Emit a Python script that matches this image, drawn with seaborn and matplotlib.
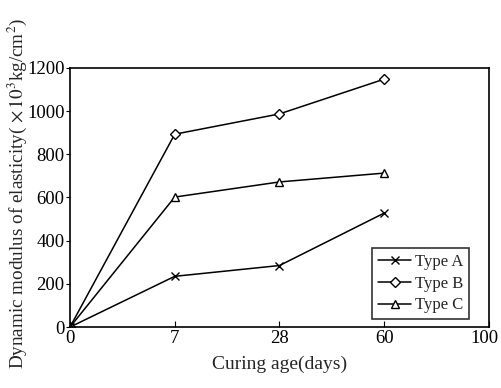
import matplotlib
matplotlib.use("Agg")
import matplotlib.pyplot as plt
import matplotlib.transforms as mtransforms
import seaborn as sns
import pandas as pd

ages = ["0", "7", "28", "60"]
type_a = [0, 235, 285, 528]
type_b = [0, 893, 987, 1148]
type_c = [0, 602, 672, 713]
x_ticklabels = ["0", "7", "28", "60", "100"]
y_ticks = [0, 200, 400, 600, 800, 1000, 1200]

sns.set_style("ticks")
plt.rcParams["font.family"] = ["Liberation Serif", "DejaVu Serif"]
plt.rcParams["mathtext.fontset"] = "stix"

fig = plt.figure(figsize=(5.01, 3.88), dpi=100)
ax = fig.add_axes([0.1397, 0.157, 0.8363, 0.668])

series = [("Type A", type_a, "x", 6), ("Type B", type_b, "D", 5), ("Type C", type_c, "^", 6)]
for name, vals, mk, ms in series:
    d = pd.DataFrame({"pos": list(range(len(ages))), "val": vals})
    sns.lineplot(data=d, x="pos", y="val", color="black", marker=mk,
                 linewidth=1.1, markersize=ms, markerfacecolor="white",
                 markeredgecolor="black", markeredgewidth=1.0, label=name, ax=ax)

ax.set_xlim(0, 4)
ax.set_ylim(0, 1200)
ax.set_xticks(range(len(x_ticklabels)))
ax.set_xticklabels(x_ticklabels)
ax.set_yticks(y_ticks)
ax.tick_params(axis="x", direction="in", length=4, labelsize=13.5, colors="black", pad=2)
ax.tick_params(axis="y", direction="out", length=3, labelsize=13.5, colors="black", pad=1)
last = ax.get_xticklabels()[-1]
last.set_transform(last.get_transform() + mtransforms.ScaledTranslation(-5 / 100, 0, fig.dpi_scale_trans))
for s in ax.spines.values():
    s.set_linewidth(1.2)
    s.set_color("black")
ax.set_xlabel("Curing age(days)", fontsize=14, labelpad=6)
ax.set_ylabel(r"Dynamic modulus of elasticity( $\times\,10^{3}$kg/cm$^{2}$)", fontsize=13.8)
ax.yaxis.set_label_coords(-0.098, 0.515)

leg = ax.legend(loc="lower right", bbox_to_anchor=(0.952, 0.03), frameon=True, fancybox=False,
                edgecolor="black", fontsize=12, handlelength=2.0, borderpad=0.35,
                labelspacing=0.35, handletextpad=0.2, borderaxespad=0)
leg.get_frame().set_linewidth(1.2)

fig.savefig("out.png", dpi=100)
